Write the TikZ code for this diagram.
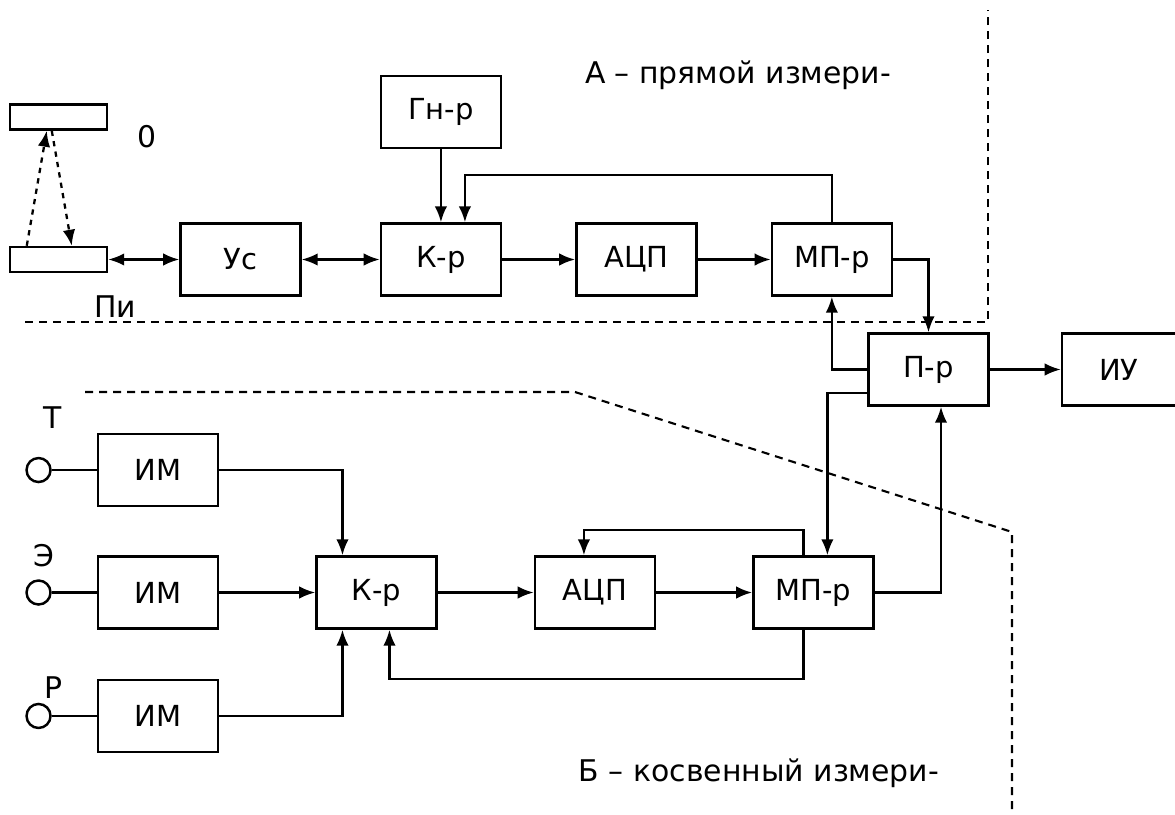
\documentclass[tikz,border=0pt]{standalone}
\usepackage{fontspec}
\setmainfont{DejaVu Sans}
\usetikzlibrary{arrows.meta,positioning,calc}

\begin{document}
\begin{tikzpicture}[
  node distance=1.46cm,
  blk/.style={rectangle, draw, line width=1.4pt, minimum width=2.4cm, minimum height=1.44cm, font=\fontsize{16.5}{18}\selectfont},
  plate/.style={rectangle, draw, line width=1.4pt, minimum width=1.94cm, minimum height=0.5cm, inner sep=0pt},
  sensor/.style={circle, draw, line width=1.4pt, minimum size=0.48cm, inner sep=0pt},
  lbl/.style={font=\fontsize{17}{19}\selectfont},
  sig/.style={-{Latex[length=3.2mm,width=2.5mm]}, line width=1.3pt},
  bisig/.style={{Latex[length=3.2mm,width=2.5mm]}-{Latex[length=3.2mm,width=2.5mm]}, line width=1.3pt},
  wire/.style={line width=1.3pt},
  zone/.style={dash pattern=on 1.6mm off 1.2mm, line width=1.2pt},
]
  \useasboundingbox (0,0) rectangle (23.5,-16.28);

  % A - direct channel
  \node[plate] (sens) at (1.17,-5.19) {};
  \node[plate] (mirr) at (1.17,-2.34) {};
  \node[lbl] (obj) at ($(mirr)+(1.77,-0.4)$) {0};
  \node[lbl] (pi) at ($(sens)+(1.13,-0.95)$) {Пи};
  \node[blk, right=1.42cm of sens] (us) {Ус};
  \node[blk, right=1.56cm of us] (kr1) {К-р};
  \node[blk, above=of kr1] (gen) {Гн-р};
  \node[blk, right=of kr1] (adc1) {АЦП};
  \node[blk, right=of adc1] (mp1) {МП-р};

  % output
  \node[blk] (pr) at (18.57,-7.39) {П-р};
  \node[blk, minimum width=2.28cm, right=1.42cm of pr] (iu) {ИУ};

  % Б - indirect channel
  \node[blk] (im2) at (3.16,-11.85) {ИМ};
  \node[blk, above=0.96cm of im2] (im1) {ИМ};
  \node[blk, below=0.98cm of im2] (im3) {ИМ};
  \node[sensor, left=0.9cm of im1] (c1) {};
  \node[sensor, left=0.9cm of im2] (c2) {};
  \node[sensor, left=0.9cm of im3] (c3) {};
  \node[lbl] (lt) at ($(c1)+(0.28,1.04)$) {Т};
  \node[lbl] (le) at ($(c2)+(0.1,0.74)$) {Э};
  \node[lbl] (lp) at ($(c3)+(0.3,0.56)$) {Р};
  \node[blk, right=1.92cm of im2] (kr2) {К-р};
  \node[blk, right=1.92cm of kr2] (adc2) {АЦП};
  \node[blk, right=1.92cm of adc2] (mp2) {МП-р};

  % zones
  \node[lbl] (za) at (14.76,-1.5) {А – прямой измери-};
  \node[lbl] (zb) at (15.18,-15.46) {Б – косвенный измери-};
  \draw[zone] (0.5,-6.44) -- (19.76,-6.44) -- (19.76,-0.2);
  \draw[zone] (1.7,-7.84) -- (11.5,-7.84) -- (20.24,-10.64) -- (20.24,-16.28);

  % connections A
  \draw[sig, dashed] ($(sens.north west)+(0.36,0)$) -- ($(mirr.south west)+(0.76,0)$);
  \draw[sig, dashed] ($(mirr.south west)+(0.86,0)$) -- ($(sens.north west)+(1.26,0)$);
  \draw[bisig] (sens) -- (us);
  \draw[bisig] (us) -- (kr1);
  \draw[sig] (kr1) -- (adc1);
  \draw[sig] (adc1) -- (mp1);
  \draw[sig] (gen) -- (kr1);
  \draw[sig] (mp1.north) -- ++(0,0.94) -| ($(kr1.north)+(0.48,0)$);
  \draw[sig] (mp1) -| (pr);
  \draw[sig] (pr) -- (iu);
  \draw[sig] (pr.west) -| (mp1.south);
  \draw[sig] ($(pr.west)+(0,-0.47)$) -| ($(mp2.north)+(0.28,0)$);

  % connections Б
  \draw[wire] (c1) -- (im1);
  \draw[wire] (c2) -- (im2);
  \draw[wire] (c3) -- (im3);
  \draw[sig] (im1) -| ($(kr2.north)+(-0.68,0)$);
  \draw[sig] (im2) -- (kr2);
  \draw[sig] (im3) -| ($(kr2.south)+(-0.68,0)$);
  \draw[sig] (kr2) -- (adc2);
  \draw[sig] (adc2) -- (mp2);
  \draw[sig] ($(mp2.north)+(-0.2,0)$) -- ++(0,0.5) -| ($(adc2.north)+(-0.22,0)$);
  \draw[sig] ($(mp2.south)+(-0.2,0)$) -- ++(0,-0.98) -| ($(kr2.south)+(0.26,0)$);
  \draw[sig] (mp2) -| ($(pr.south)+(0.25,0)$);
\end{tikzpicture}
\end{document}
